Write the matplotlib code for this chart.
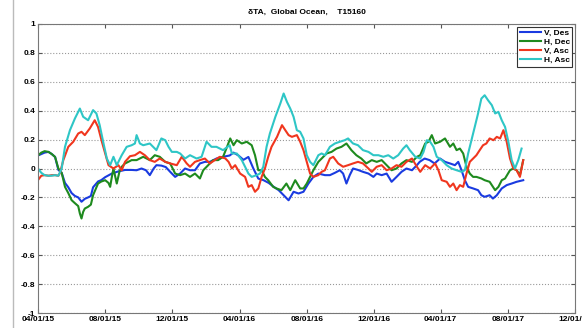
import datetime as dt
import matplotlib
matplotlib.use("Agg")
import matplotlib.pyplot as plt
import matplotlib.dates as mdates
from matplotlib.lines import Line2D

start = dt.date(2015, 4, 1)

# days after 04/01/15, values
days_v_des = [0, 6, 12, 19, 25, 31, 37, 43, 49, 55, 61, 67, 73, 79, 85, 91, 96, 100, 109, 115,
              122, 134, 146, 158, 170, 179, 188, 196, 203, 210, 215, 224, 232, 240, 249, 258, 267,
              276, 285, 294, 303, 312, 324, 336, 348, 355, 364, 373, 382, 391, 400, 409, 419, 428,
              437, 446, 455, 464, 473, 482, 491, 500, 509, 521, 530, 539, 548, 554, 560, 566, 572,
              581, 590, 600, 609, 615, 624, 633, 642, 651, 660, 669, 679, 688, 693, 702, 711, 720,
              730, 739, 748, 757, 763, 769, 775, 781, 790, 799, 805, 811, 820, 826, 833, 842, 851,
              860, 869, 881]
v_des = [0.09, 0.10, 0.11, 0.115, 0.10, 0.08, -0.01, -0.03, -0.10, -0.13, -0.17, -0.19, -0.20,
         -0.23, -0.21, -0.20, -0.19, -0.13, -0.09, -0.08, -0.06, -0.035, -0.02, -0.01, -0.01,
         -0.012, 0.0, -0.012, -0.046, 0.0, 0.023, 0.02, 0.01, -0.023, -0.058, -0.035, 0.0, -0.012,
         -0.012, 0.035, 0.046, 0.046, 0.069, 0.081, 0.09, 0.11, 0.09, 0.06, 0.08, 0.0, -0.07,
         -0.08, -0.10, -0.127, -0.15, -0.185, -0.22, -0.161, -0.173, -0.161, -0.104, -0.058,
         -0.035, -0.046, -0.046, -0.03, -0.012, -0.035, -0.104, -0.046, 0.0, -0.01, -0.023,
         -0.035, -0.058, -0.035, -0.046, -0.035, -0.092, -0.058, -0.023, 0.0, -0.012, 0.023,
         0.046, 0.069, 0.058, 0.035, 0.069, 0.046, 0.035, 0.023, 0.046, -0.012, -0.081, -0.127,
         -0.138, -0.15, -0.185, -0.196, -0.185, -0.208, -0.185, -0.138, -0.115, -0.104, -0.092,
         -0.081]

days_h_dec = [0, 6, 12, 19, 25, 31, 37, 43, 49, 55, 61, 67, 73, 76, 79, 82, 85, 91, 96, 100, 109,
              115, 122, 128, 131, 134, 137, 143, 148, 152, 158, 164, 170, 179, 191, 203, 212, 221,
              231, 240, 249, 258, 267, 276, 285, 294, 300, 309, 318, 327, 336, 342, 349, 355, 361,
              370, 379, 388, 394, 400, 406, 412, 418, 427, 433, 442, 451, 458, 467, 476, 482, 488,
              494, 500, 509, 515, 524, 533, 542, 551, 560, 569, 578, 587, 596, 606, 615, 624, 633,
              642, 651, 660, 669, 679, 688, 694, 703, 709, 715, 721, 730, 739, 748, 754, 760, 766,
              772, 778, 784, 790, 796, 805, 811, 820, 830, 836, 842, 848, 857, 863, 869, 875, 881]
h_dec = [0.09, 0.11, 0.12, 0.115, 0.10, 0.08, 0.0, -0.03, -0.127, -0.17, -0.219, -0.24, -0.26,
         -0.311, -0.346, -0.30, -0.277, -0.265, -0.25, -0.185, -0.104, -0.09, -0.081, -0.10,
         -0.127, -0.06, 0.0, -0.104, -0.02, 0.012, 0.035, 0.046, 0.058, 0.058, 0.081, 0.058,
         0.092, 0.081, 0.046, 0.035, -0.035, -0.046, -0.035, -0.058, -0.035, -0.069, -0.012,
         0.023, 0.058, 0.058, 0.081, 0.138, 0.208, 0.161, 0.196, 0.173, 0.185, 0.161, 0.092,
         -0.012, -0.012, -0.058, -0.081, -0.127, -0.138, -0.15, -0.104, -0.15, -0.081, -0.138,
         -0.138, -0.104, -0.058, -0.012, 0.046, 0.069, 0.104, 0.115, 0.138, 0.15, 0.173, 0.127,
         0.092, 0.069, 0.035, 0.058, 0.046, 0.058, 0.023, -0.012, 0.0, 0.035, 0.058, 0.046,
         0.081, 0.092, 0.173, 0.185, 0.231, 0.173, 0.185, 0.208, 0.15, 0.173, 0.127, 0.138,
         0.104, 0.012, -0.035, -0.058, -0.058, -0.069, -0.081, -0.092, -0.15, -0.127, -0.081,
         -0.069, -0.012, 0.0, -0.012, -0.046, 0.058]

days_v_asc = [0, 6, 12, 19, 25, 31, 37, 40, 46, 55, 64, 73, 79, 85, 94, 103, 109, 116, 122, 128,
              137, 146, 152, 158, 167, 176, 185, 194, 203, 212, 221, 231, 240, 252, 261, 270, 276,
              285, 294, 303, 312, 321, 330, 340, 346, 352, 358, 367, 376, 382, 388, 394, 400, 406,
              412, 418, 424, 434, 443, 449, 455, 461, 470, 476, 482, 488, 494, 500, 509, 515, 521,
              530, 536, 545, 554, 563, 572, 581, 590, 600, 606, 615, 624, 633, 642, 651, 660, 669,
              679, 688, 694, 703, 712, 721, 727, 733, 742, 748, 754, 760, 766, 772, 778, 784, 790,
              796, 802, 808, 814, 820, 827, 833, 839, 845, 851, 857, 863, 869, 875, 881]
v_asc = [-0.08, -0.05, -0.046, -0.05, -0.046, -0.046, -0.05, -0.03, 0.058, 0.15, 0.185, 0.242,
         0.254, 0.231, 0.277, 0.334, 0.288, 0.185, 0.104, 0.023, 0.0, 0.023, -0.012, 0.046,
         0.085, 0.092, 0.115, 0.092, 0.058, 0.046, 0.069, 0.046, 0.035, 0.023, 0.081, 0.035,
         0.012, 0.046, 0.058, 0.069, 0.035, 0.058, 0.081, 0.07, 0.046, 0.0, 0.023, -0.035,
         -0.058, -0.127, -0.115, -0.161, -0.138, -0.058, 0.0, 0.081, 0.15, 0.219, 0.3, 0.265,
         0.231, 0.219, 0.231, 0.185, 0.127, 0.046, -0.035, -0.058, -0.046, -0.023, -0.012,
         0.069, 0.081, 0.035, 0.012, 0.023, 0.035, 0.046, 0.035, 0.0, -0.023, 0.012, 0.023,
         -0.012, 0.0, 0.023, 0.012, 0.046, 0.069, 0.012, -0.023, 0.023, 0.0, 0.035, -0.012,
         -0.081, -0.092, -0.127, -0.104, -0.15, -0.115, -0.127, -0.035, 0.046, 0.069, 0.092,
         0.127, 0.161, 0.173, 0.208, 0.196, 0.219, 0.208, 0.265, 0.185, 0.069, 0.0, -0.012,
         -0.058, 0.058]

days_h_asc = [0, 6, 12, 19, 25, 31, 37, 43, 49, 58, 67, 76, 82, 91, 100, 106, 112, 119, 125, 131,
              137, 143, 152, 161, 170, 176, 179, 185, 191, 203, 215, 224, 231, 237, 243, 252, 258,
              267, 276, 288, 297, 306, 315, 324, 336, 348, 352, 361, 370, 376, 382, 388, 397, 403,
              409, 415, 421, 431, 440, 446, 452, 458, 464, 470, 476, 482, 488, 494, 500, 509, 515,
              521, 530, 539, 548, 557, 563, 572, 581, 590, 600, 609, 618, 627, 636, 645, 654, 663,
              669, 675, 685, 694, 700, 706, 712, 718, 724, 733, 742, 751, 760, 769, 775, 781, 787,
              793, 799, 805, 811, 817, 824, 830, 836, 842, 848, 854, 860, 866, 872, 878]
h_asc = [0.0, -0.03, -0.046, -0.05, -0.05, -0.046, -0.05, 0.0, 0.15, 0.265, 0.346, 0.415, 0.358,
         0.334, 0.404, 0.381, 0.3, 0.173, 0.069, 0.023, 0.081, 0.023, 0.092, 0.15, 0.161, 0.173,
         0.231, 0.173, 0.161, 0.173, 0.127, 0.208, 0.196, 0.15, 0.115, 0.115, 0.104, 0.069,
         0.092, 0.069, 0.081, 0.185, 0.15, 0.15, 0.127, 0.161, 0.104, 0.104, 0.058, 0.012,
         -0.035, -0.058, -0.046, -0.035, 0.012, 0.15, 0.242, 0.358, 0.45, 0.519, 0.461, 0.415,
         0.358, 0.265, 0.254, 0.208, 0.092, 0.046, 0.023, 0.092, 0.104, 0.092, 0.15, 0.173,
         0.185, 0.196, 0.208, 0.173, 0.161, 0.127, 0.115, 0.092, 0.092, 0.081, 0.092, 0.069,
         0.092, 0.138, 0.161, 0.127, 0.081, 0.069, 0.115, 0.196, 0.185, 0.15, 0.081, 0.058,
         0.023, 0.0, -0.012, -0.023, -0.012, 0.104, 0.196, 0.288, 0.381, 0.484, 0.507, 0.473,
         0.438, 0.381, 0.392, 0.334, 0.288, 0.185, 0.058, 0.0, 0.058, 0.138]

series = [
    ("V, Des", days_v_des, v_des, "#1a3be0"),
    ("H, Dec", days_h_dec, h_dec, "#1e8a1e"),
    ("V, Asc", days_v_asc, v_asc, "#f0361e"),
    ("H, Asc", days_h_asc, h_asc, "#2ec6c6"),
]

plt.rcParams['font.family'] = ['Liberation Sans', 'DejaVu Sans']
plt.rcParams['font.weight'] = 'bold'

fig = plt.figure(figsize=(5.82, 3.28), dpi=100)
ax = fig.add_axes([38 / 582, 15 / 328, 537 / 582, 289 / 328])

for name, days, vals, col in series:
    dates = [start + dt.timedelta(days=d) for d in days]
    ax.plot(dates, vals, color=col, lw=1.5, label=name)

ax.set_xlim(dt.date(2015, 4, 1), dt.date(2017, 12, 1))
ax.set_ylim(-1, 1)
ax.set_yticks([-1, -0.8, -0.6, -0.4, -0.2, 0, 0.2, 0.4, 0.6, 0.8, 1])
ax.set_yticklabels(["-1", "-0.8", "-0.6", "-0.4", "-0.2", "0", "0.2", "0.4", "0.6", "0.8", "1"])
ax.xaxis.set_major_locator(mdates.MonthLocator(bymonth=[4, 8, 12], bymonthday=1))
ax.xaxis.set_major_formatter(mdates.DateFormatter('%m/%d/%y'))

ax.tick_params(direction='in', length=3, width=0.8, labelsize=6, color='#555555',
               top=True, right=True, pad=2)
ax.grid(axis='y', linestyle=':', color='#999999', lw=0.8)
for s in ax.spines.values():
    s.set_color('#777777')
    s.set_linewidth(0.8)

ax.set_title("δTA,  Global Ocean,    T15160", fontsize=6, fontweight='bold', pad=7)

leg = ax.legend(loc='upper right', fontsize=6, handlelength=2.6, handletextpad=0.3,
                borderpad=0.3, labelspacing=0.15, fancybox=False, framealpha=1,
                borderaxespad=0.3)
leg.get_frame().set_edgecolor('#333333')
leg.get_frame().set_linewidth(0.8)

# thin grey border line at the left of the picture
fig.add_artist(Line2D([13 / 582, 13 / 582], [0, 1], color='#bbbbbb', lw=1))

fig.savefig('out.png', dpi=100)
